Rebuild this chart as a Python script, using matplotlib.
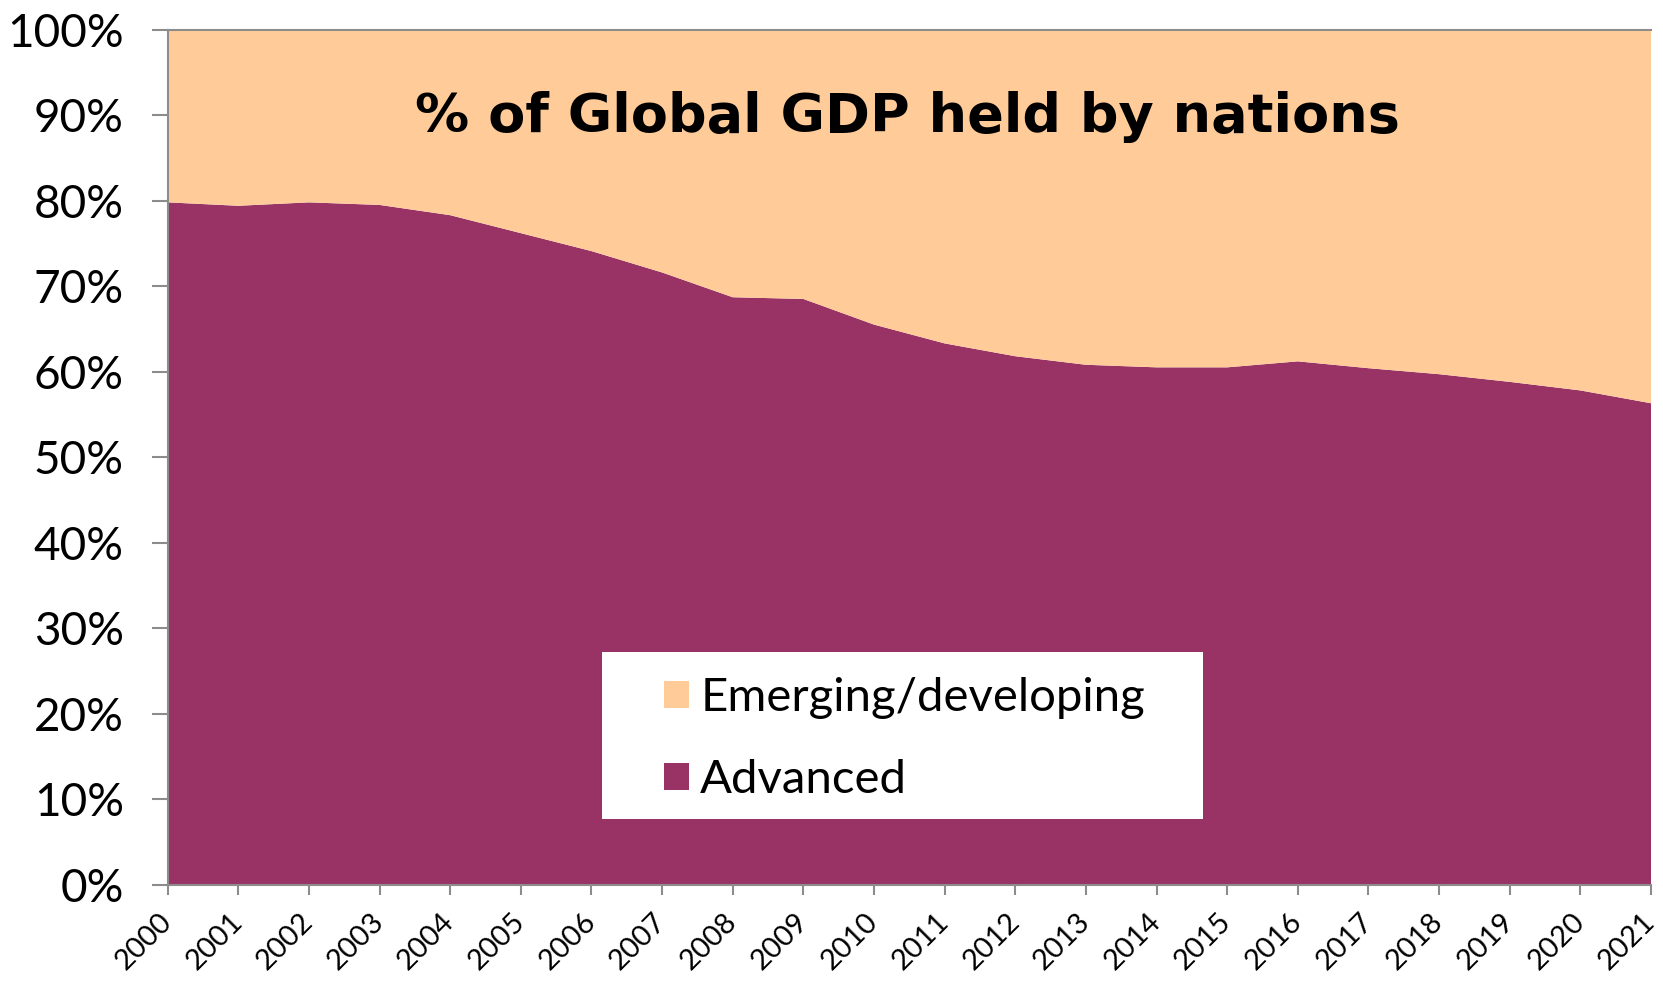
import matplotlib
matplotlib.use('Agg')
import matplotlib.pyplot as plt
from matplotlib.ticker import PercentFormatter
from matplotlib.patches import Patch, Rectangle

# share of global GDP, percent
years = list(range(2000, 2022))
advanced = [79.8, 79.4, 79.8, 79.5, 78.3, 76.2, 74.1, 71.6, 68.7, 68.5, 65.5,
            63.3, 61.8, 60.8, 60.5, 60.5, 61.2, 60.4, 59.7, 58.8, 57.8, 56.3]
emerging = [100 - a for a in advanced]
series_names = ['Emerging/developing', 'Advanced']

adv_color = '#993366'
emg_color = '#FFCC99'
axis_gray = '#8c8c8c'

plt.rcParams['font.family'] = ['Lato', 'DejaVu Sans']

fig = plt.figure(figsize=(16.63, 9.83), dpi=100)
ax = fig.add_axes([0.1008, 0.1002, 0.892, 0.8696])

ax.stackplot(years, advanced, emerging, colors=[adv_color, emg_color],
             linewidth=0)

ax.set_xlim(years[0], years[-1])
ax.set_ylim(0, 100)
ax.set_yticks(range(0, 101, 10))
ax.yaxis.set_major_formatter(PercentFormatter(decimals=0))
ax.set_xticks(years)
ax.set_xticklabels([str(y) for y in years], rotation=45, ha='right', va='center',
                   rotation_mode='anchor', fontsize=21)
for lbl in ax.get_yticklabels():
    lbl.set_fontsize(33)

ax.tick_params(axis='both', color=axis_gray, width=1.5, direction='out', labelcolor='black')
ax.tick_params(axis='y', length=11.5, pad=20)
ax.tick_params(axis='x', length=7.5, pad=16)
for side in ['left', 'bottom', 'top']:
    ax.spines[side].set_color(axis_gray)
    ax.spines[side].set_linewidth(1.5)
ax.spines['right'].set_visible(False)

ax.text(0.499, 0.898, '% of Global GDP held by nations', transform=ax.transAxes,
        ha='center', va='center', fontsize=39, fontweight='bold',
        family=['DejaVu Sans'])

# white legend box
ax.add_patch(Rectangle((0.293, 0.0766), 0.405, 0.1954, transform=ax.transAxes,
                       facecolor='white', edgecolor='none', zorder=3))
handles = [Patch(facecolor=emg_color, label=series_names[0]),
           Patch(facecolor=adv_color, label=series_names[1])]
leg = ax.legend(handles=handles, loc='center left', bbox_to_anchor=(0.3346, 0.170),
                fontsize=34, frameon=False,
                handlelength=0.52, handleheight=0.52, handletextpad=0.25,
                labelspacing=0.85, borderpad=0, borderaxespad=0)
leg.set_zorder(4)

plt.savefig('out.png', dpi=100)
